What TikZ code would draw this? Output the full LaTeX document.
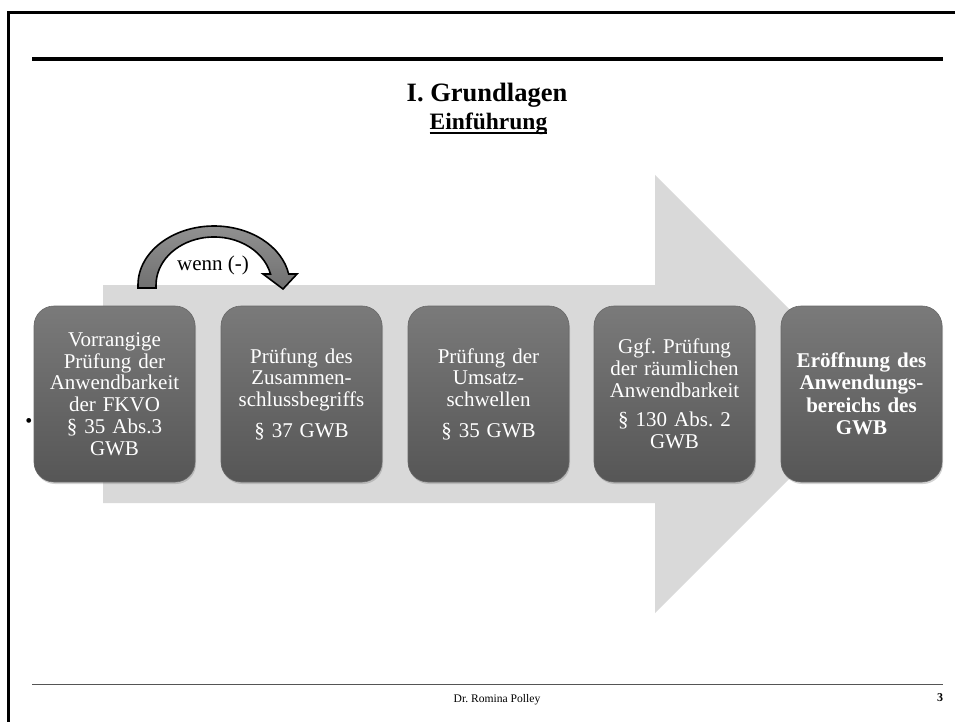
\documentclass[tikz,border=0pt]{standalone}
\usepackage{fontspec}
\setmainfont{Liberation Serif}
\usetikzlibrary{shadows}
\frenchspacing
\definecolor{arrowgray}{RGB}{217,217,217}
\definecolor{boxtop}{RGB}{122,122,122}
\definecolor{boxbot}{RGB}{86,86,86}
\definecolor{boxedge}{RGB}{104,104,104}
\definecolor{curvetop}{RGB}{145,145,145}
\definecolor{curvebot}{RGB}{112,112,112}
\definecolor{footgray}{RGB}{85,85,85}
\tikzset{
  stepbox/.style={rounded corners=20pt, minimum width=161pt, minimum height=176pt,
    text width=152pt, align=center, text=white, top color=boxtop, bottom color=boxbot,
    draw=boxedge, line width=0.6pt, inner sep=0pt,
    font=\fontsize{21}{21.7}\selectfont,
    drop shadow={opacity=0.35, shadow xshift=1pt, shadow yshift=-2pt}},
  boldbox/.style={stepbox, font=\fontsize{21}{22.5}\selectfont\bfseries},
  plaintext/.style={inner sep=0pt, anchor=base},
}
\begin{document}
\frenchspacing
\begin{tikzpicture}[x=1pt,y=-1pt]
\useasboundingbox (0,0) rectangle (955,722);
% frame
\draw[line width=2.5pt] (8.7,722) -- (8.7,12.7) -- (955,12.7);
% header rule
\draw[line width=4pt] (32,59.3) -- (943,59.3);
% footer rule
\draw[line width=1.3pt, footgray] (32,684.3) -- (943,684.3);
% titles
\node[plaintext, font=\fontsize{26.5}{30}\selectfont\bfseries] (title) at (487,102) {I. Grundlagen};
\node[plaintext, font=\fontsize{23.5}{26}\selectfont\bfseries] (sub) at (488.5,130) {Einführung};
\draw[line width=2pt] ([yshift=-3.3pt]sub.base west) -- ([yshift=-3.3pt]sub.base east);
% big background arrow
\fill[arrowgray] (103,285) -- (655,285) -- (655,175) -- (874,394) -- (655,613) -- (655,503) -- (103,503) -- cycle;
% boxes
\node[stepbox] (b1) at (114.5,394) {Vorrangige\\Prüfung der\\Anwendbarkeit\\der FKVO\\§ 35 Abs.3\\GWB};
\node[stepbox] (b2) at (301.5,394) {Prüfung des\\Zusammen-\\schlussbegriffs\\[9pt]§ 37 GWB};
\node[stepbox] (b3) at (488.5,394) {Prüfung der\\Umsatz-\\schwellen\\[9pt]§ 35 GWB};
\node[stepbox] (b4) at (674.5,394) {Ggf. Prüfung\\der räumlichen\\Anwendbarkeit\\[8pt]§ 130 Abs. 2\\GWB};
\node[boldbox] (b5) at (861.5,394) {Eröffnung des\\Anwendungs-\\bereichs des\\GWB};
% curved block arrow
\draw[top color=curvetop, bottom color=curvebot, line width=1.6pt, line join=miter]
  (138,288) -- (138,285) arc[start angle=180, end angle=10.7, x radius=76pt, y radius=59pt]
  -- (297,274) -- (283,289) -- (263,274) -- (270.5,274)
  arc[start angle=13.2, end angle=180, x radius=58pt, y radius=48pt]
  -- (156,288) -- cycle;
\node[font=\fontsize{21}{24}\selectfont, inner sep=0pt] (wenn) at (213,265) {wenn (-)};
% bullet
\node[font=\fontsize{20}{22}\selectfont, inner sep=0pt] (bullet) at (29,423) {•};
% footer
\node[plaintext, font=\fontsize{11.6}{14}\selectfont] (author) at (497,702) {Dr. Romina Polley};
\node[plaintext, font=\fontsize{12}{14}\selectfont\bfseries] (page) at (940,701.7) {3};
\end{tikzpicture}
\end{document}
